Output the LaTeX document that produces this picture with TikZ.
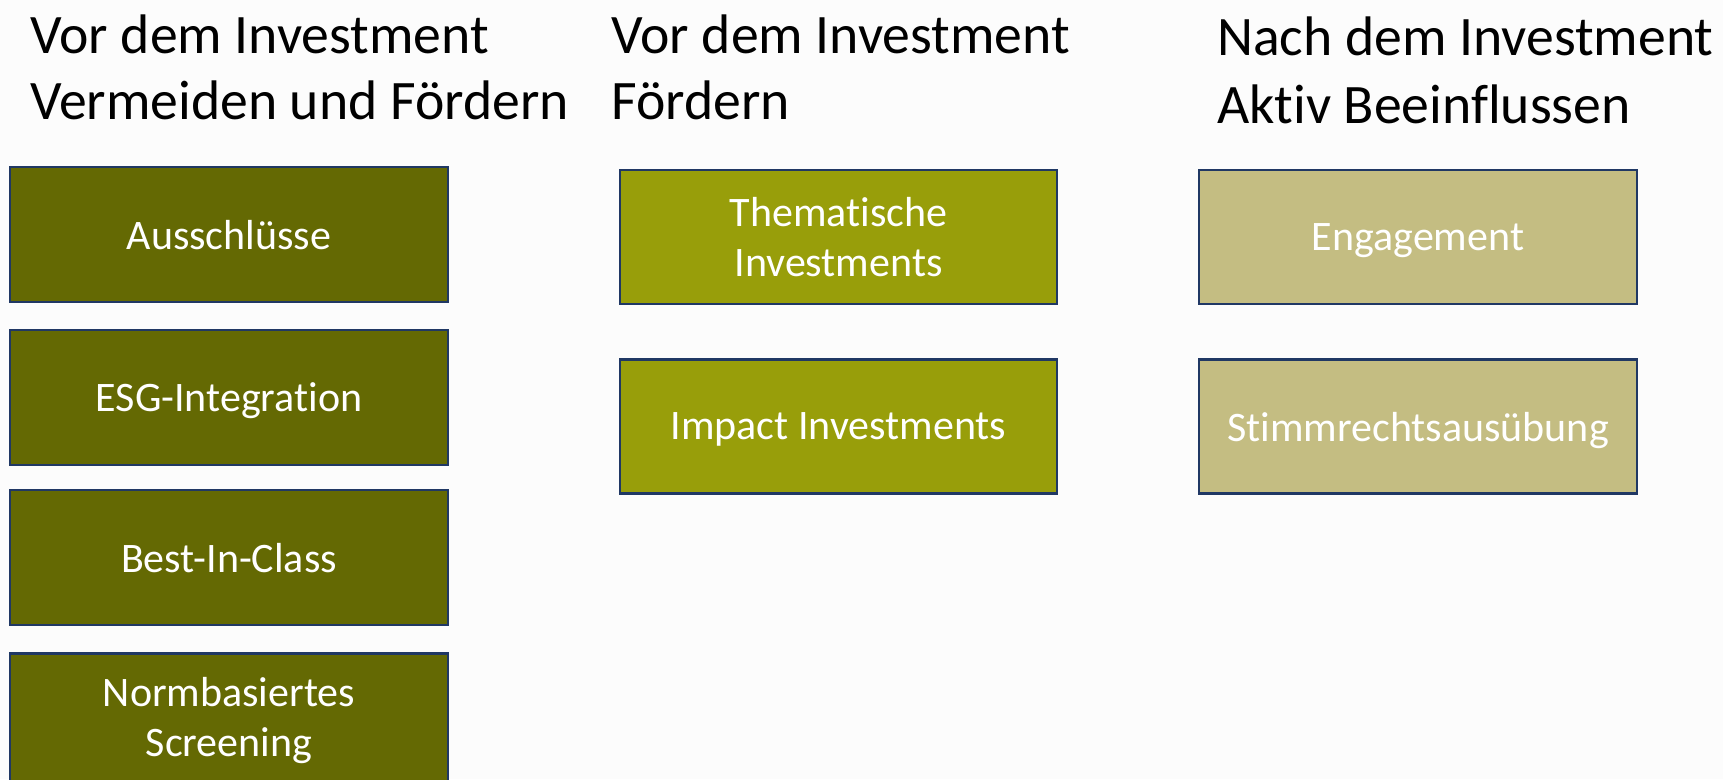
\documentclass[tikz,border=0pt]{standalone}
\usepackage{fontspec}
\setmainfont[Ligatures={NoCommon},RawFeature={-liga;-clig}]{Carlito}
\definecolor{bg}{HTML}{FCFCFC}
\definecolor{cone}{HTML}{646903}
\definecolor{ctwo}{HTML}{989E0A}
\definecolor{cthree}{HTML}{C4BD82}
\definecolor{edge}{HTML}{203864}
\begin{document}
\begin{tikzpicture}[x=1pt,y=-1pt,
  box/.style={draw=edge,line width=2.8pt,text=white,align=center,
    font=\fontsize{42}{50}\selectfont,inner sep=0pt},
  single/.style={text depth=0pt},
  head/.style={anchor=base west,align=left,inner sep=0pt,
    font=\fontsize{55.7}{66}\selectfont}]
\fill[bg] (0,0) rectangle (1723,779);
\useasboundingbox (0,0) rectangle (1723,779);
% headings
\node[head] (h1a) at (30,53) {Vor dem Investment};
\node[head] (h1b) at (30,119) {Vermeiden und Fördern};
\node[head] (h2a) at (611,53) {Vor dem Investment};
\node[head] (h2b) at (611,119) {Fördern};
\node[head] (h3a) at (1217,55) {Nach dem Investment};
\node[head] (h3b) at (1217,123) {Aktiv Beeinflussen};
% column 1
\begin{scope}
\clip (0,0) rectangle (1723,779);
\node[box,single,fill=cone,minimum width=438pt,minimum height=135pt] (a1) at (229,234.5) {Ausschlüsse};
\node[box,single,fill=cone,minimum width=438pt,minimum height=135pt] (a2) at (229,397.5) {ESG-Integration};
\node[box,single,fill=cone,minimum width=438pt,minimum height=135pt] (a3) at (229,557.5) {Best-In-Class};
\node[box,fill=cone,minimum width=438pt,minimum height=135pt] (a4) at (229,721) {Normbasiertes\\Screening};
\end{scope}
% column 2
\node[box,fill=ctwo,minimum width=437pt,minimum height=134pt] (b1) at (838.5,237) {Thematische\\Investments};
\node[box,single,fill=ctwo,minimum width=437pt,minimum height=134pt] (b2) at (838.5,426.5) {Impact Investments};
% column 3
\node[box,single,fill=cthree,minimum width=438pt,minimum height=134pt] (c1) at (1418,237) {Engagement};
\node[box,single,fill=cthree,minimum width=438pt,minimum height=134pt] (c2) at (1418,426.5) {Stimmrechtsausübung};
\end{tikzpicture}
\end{document}
